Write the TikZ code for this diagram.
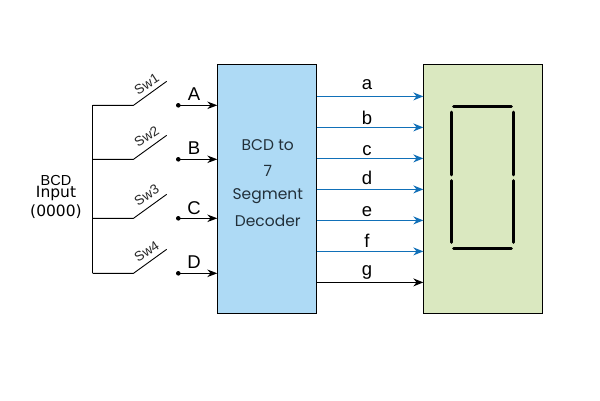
\documentclass[tikz,border=0pt]{standalone}
\usepackage{fontspec}
\setmainfont{Liberation Sans}
\newfontfamily\popfont{Poppins}
\newfontfamily\djfont{DejaVu Sans}
\usetikzlibrary{arrows.meta,calc}
\definecolor{decoderfill}{HTML}{AEDAF5}
\definecolor{displayfill}{HTML}{DAE8C0}
\definecolor{linkblue}{HTML}{1170B8}
\definecolor{decodertext}{HTML}{22303A}
\tikzset{
  block/.style={draw=black,line width=1.1pt,inner sep=0pt,outer sep=0pt,anchor=north west},
  wire/.style={draw=black,line width=0.9pt},
  inarrow/.style={draw=black,line width=0.9pt,-{Stealth[length=10pt,width=7.5pt]}},
  segout/.style={draw=#1,line width=1pt,-{Stealth[length=10pt,width=8pt,color=#1]}},
  segbar/.style={draw=black,line width=2.8pt,line cap=round},
  swname/.style={font=\fontsize{13.5}{13.5}\selectfont,rotate=33,inner sep=0pt,text=black!85},
  inname/.style={font=\fontsize{18.5}{18.5}\selectfont,inner sep=0pt},
  outname/.style={font=\fontsize{18.5}{18.5}\selectfont,inner sep=0pt},
  dectext/.style={font=\popfont\fontsize{15.5}{15.5}\selectfont,inner sep=0pt,text=decodertext},
  pinpoint/.style={circle,fill=black,inner sep=0pt,minimum size=4.6pt}
}
\begin{document}
\begin{tikzpicture}[x=1pt,y=-1pt]
\useasboundingbox (0,0) rectangle (600,400);
\fill[white] (0,0) rectangle (600,400);

% decoder and display blocks
\node[block,fill=decoderfill,minimum width=99.4pt,minimum height=249pt] (dec) at (217.3,64.3) {};
\node[block,fill=displayfill,minimum width=119pt,minimum height=249pt] (disp) at (423.3,64.3) {};

\node[dectext] (d1) at (267.8,145) {BCD to};
\node[dectext] (d2) at (267.8,170.5) {7};
\node[dectext] (d3) at (267.8,196) {Segment};
\node[dectext] (d4) at (267.8,220.5) {Decoder};

% common input rail and the four switches
\coordinate (railtop) at (92.5,105.3);
\coordinate (railbot) at (92.5,273.3);
\draw[wire] (railtop) -- (railbot);
\foreach \swn/\swt/\yy/\ty/\ltr/\ly in {sa/Sw1/105.3/84/A/94, sb/Sw2/159.3/136.7/B/148, sc/Sw3/218.3/195/C/208, sd/Sw4/273.3/251.7/D/262}{
  \coordinate (\swn hinge) at (133.5,\yy);
  \coordinate (\swn tip) at (166.7,\yy-24);
  \draw[wire,line join=round] (railtop |- \swn hinge) -- (\swn hinge) -- (\swn tip);
  \node[swname] (\swn label) at (146.7,\ty) {\swt};
  \node[pinpoint] (\swn pin) at (178.3,\yy) {};
  \draw[inarrow] (\swn pin.center) -- (dec.west |- \swn pin);
  \node[inname] (\swn letter) at (194,\ly) {\ltr};
}

% input caption
\node[font=\fontsize{14.5}{14.5}\selectfont,inner sep=0pt] (capa) at (56,180.5) {BCD};
\node[font=\djfont\fontsize{15.5}{15.5}\selectfont,inner sep=0pt] (capb) at (56,193.5) {Input};
\node[font=\djfont\fontsize{15.5}{15.5}\selectfont,inner sep=0pt] (capc) at (56,212) {(0000)};

% segment lines from decoder to display
\foreach \outn/\yy/\seglab/\col/\by in {oa/96.4/a/linkblue/89.3, ob/127.4/b/linkblue/124, oc/158.4/c/linkblue/155.3, od/189.4/d/linkblue/184.7, oe/220.4/e/linkblue/216.7, of/251.4/f/linkblue/247.7, og/282.4/g/black/275}{
  \coordinate (\outn) at (370,\yy);
  \draw[segout=\col] (dec.east |- \outn) -- (disp.west |- \outn);
  \node[outname,anchor=base] (\outn label) at (367,\by) {\seglab};
}

% seven-segment figure
\draw[segbar] (453.6,106.3) -- (511.4,106.3);
\draw[segbar] (453.6,248.3) -- (511.4,248.3);
\draw[segbar] (451.4,112) -- (451.4,175);
\draw[segbar] (451.4,180.5) -- (451.4,242.5);
\draw[segbar] (513.4,112) -- (513.4,175);
\draw[segbar] (513.4,180.5) -- (513.4,242.5);
\end{tikzpicture}
\end{document}
